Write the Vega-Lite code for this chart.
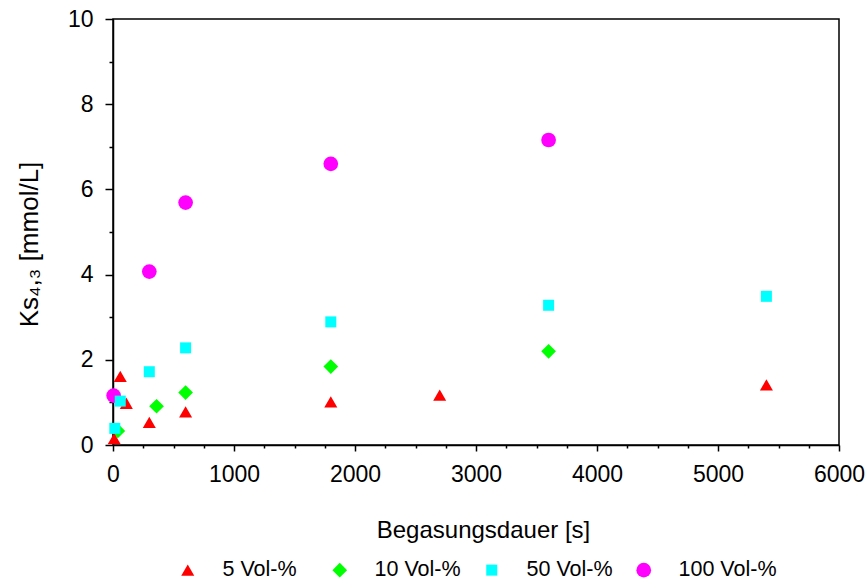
{
  "$schema": "https://vega.github.io/schema/vega-lite/v6.json",
  "width": 726,
  "height": 426,
  "autosize": {"type": "none"},
  "padding": {"left": 113, "top": 19, "right": 28, "bottom": 136},
  "background": "white",
  "config": {
    "font": "Liberation Sans",
    "view": {"stroke": "black", "strokeWidth": 1.5},
    "axis": {
      "grid": false,
      "domainColor": "black",
      "domainWidth": 1.5,
      "tickColor": "black",
      "tickWidth": 1.5,
      "labelColor": "black",
      "titleColor": "black",
      "labelFont": "Liberation Sans",
      "titleFont": "Liberation Sans",
      "titleFontWeight": "normal"
    }
  },
  "data": {
    "values": [
      {"series": "100 Vol-%", "t": 5, "ks": 1.16},
      {"series": "100 Vol-%", "t": 300, "ks": 4.07},
      {"series": "100 Vol-%", "t": 600, "ks": 5.69},
      {"series": "100 Vol-%", "t": 1800, "ks": 6.6},
      {"series": "100 Vol-%", "t": 3600, "ks": 7.16},
      {"series": "10 Vol-%", "t": 40, "ks": 0.33},
      {"series": "10 Vol-%", "t": 360, "ks": 0.91},
      {"series": "10 Vol-%", "t": 600, "ks": 1.23},
      {"series": "10 Vol-%", "t": 1800, "ks": 1.84},
      {"series": "10 Vol-%", "t": 3600, "ks": 2.2},
      {"series": "5 Vol-%", "t": 10, "ks": 0.15},
      {"series": "5 Vol-%", "t": 60, "ks": 1.61},
      {"series": "5 Vol-%", "t": 110, "ks": 0.98},
      {"series": "5 Vol-%", "t": 300, "ks": 0.53},
      {"series": "5 Vol-%", "t": 600, "ks": 0.78},
      {"series": "5 Vol-%", "t": 1800, "ks": 1.01},
      {"series": "5 Vol-%", "t": 2700, "ks": 1.17},
      {"series": "5 Vol-%", "t": 5400, "ks": 1.41},
      {"series": "50 Vol-%", "t": 15, "ks": 0.39},
      {"series": "50 Vol-%", "t": 60, "ks": 1.03},
      {"series": "50 Vol-%", "t": 300, "ks": 1.72},
      {"series": "50 Vol-%", "t": 600, "ks": 2.28},
      {"series": "50 Vol-%", "t": 1800, "ks": 2.89},
      {"series": "50 Vol-%", "t": 3600, "ks": 3.28},
      {"series": "50 Vol-%", "t": 5400, "ks": 3.49}
    ]
  },
  "mark": {"type": "point", "filled": true, "opacity": 1, "strokeWidth": 0},
  "encoding": {
    "x": {
      "field": "t",
      "type": "quantitative",
      "scale": {"domain": [0, 6000], "nice": false, "zero": false},
      "axis": {
        "title": "Begasungsdauer [s]",
        "values": [0, 250, 500, 750, 1000, 1250, 1500, 1750, 2000, 2250, 2500, 2750, 3000, 3250, 3500, 3750, 4000, 4250, 4500, 4750, 5000, 5250, 5500, 5750, 6000],
        "format": "d",
        "labelExpr": "datum.value % 1000 === 0 ? datum.label : ''",
        "tickSize": {"condition": {"test": "datum.value % 1000 === 0", "value": 6}, "value": 3},
        "labelFontSize": 23,
        "labelPadding": 12,
        "labelFlush": false,
        "labelOverlap": false,
        "titleFontSize": 24,
        "titleX": 370,
        "titleY": 92,
        "titleBaseline": "alphabetic",
        "titleAlign": "center"
      }
    },
    "y": {
      "field": "ks",
      "type": "quantitative",
      "scale": {"domain": [0, 10], "nice": false},
      "axis": {
        "title": "Ks₄,₃ [mmol/L]",
        "values": [0, 0.5, 1, 1.5, 2, 2.5, 3, 3.5, 4, 4.5, 5, 5.5, 6, 6.5, 7, 7.5, 8, 8.5, 9, 9.5, 10],
        "format": "d",
        "labelExpr": "datum.value % 2 === 0 ? datum.label : ''",
        "tickSize": {"condition": {"test": "datum.value % 2 === 0", "value": 8}, "value": 4},
        "labelFontSize": 23,
        "labelPadding": 12,
        "labelFlush": false,
        "labelOverlap": false,
        "titleFontSize": 26,
        "titleAngle": -90,
        "titleX": -76,
        "titleY": 225,
        "titleAlign": "center",
        "titleBaseline": "alphabetic"
      }
    },
    "color": {
      "field": "series",
      "type": "nominal",
      "scale": {"domain": ["5 Vol-%", "10 Vol-%", "50 Vol-%", "100 Vol-%"], "range": ["#ff0000", "#00ff00", "#00ffff", "#ff00ff"]},
      "legend": {
        "orient": "none",
        "legendX": 64,
        "legendY": 540,
        "direction": "horizontal",
        "title": null,
        "padding": 0,
        "gridAlign": "all",
        "columnPadding": 8,
        "labelOffset": 24,
        "labelFontSize": 21.5,
        "labelColor": "black",
        "labelFont": "Liberation Sans",
        "symbolStrokeWidth": 0,
        "symbolOpacity": 1
      }
    },
    "shape": {
      "field": "series",
      "type": "nominal",
      "scale": {"domain": ["5 Vol-%", "10 Vol-%", "50 Vol-%", "100 Vol-%"], "range": ["triangle-up", "diamond", "square", "circle"]}
    },
    "size": {
      "field": "series",
      "type": "nominal",
      "scale": {"type": "ordinal", "domain": ["5 Vol-%", "10 Vol-%", "50 Vol-%", "100 Vol-%"], "range": [170, 216, 121, 216]}
    }
  }
}
